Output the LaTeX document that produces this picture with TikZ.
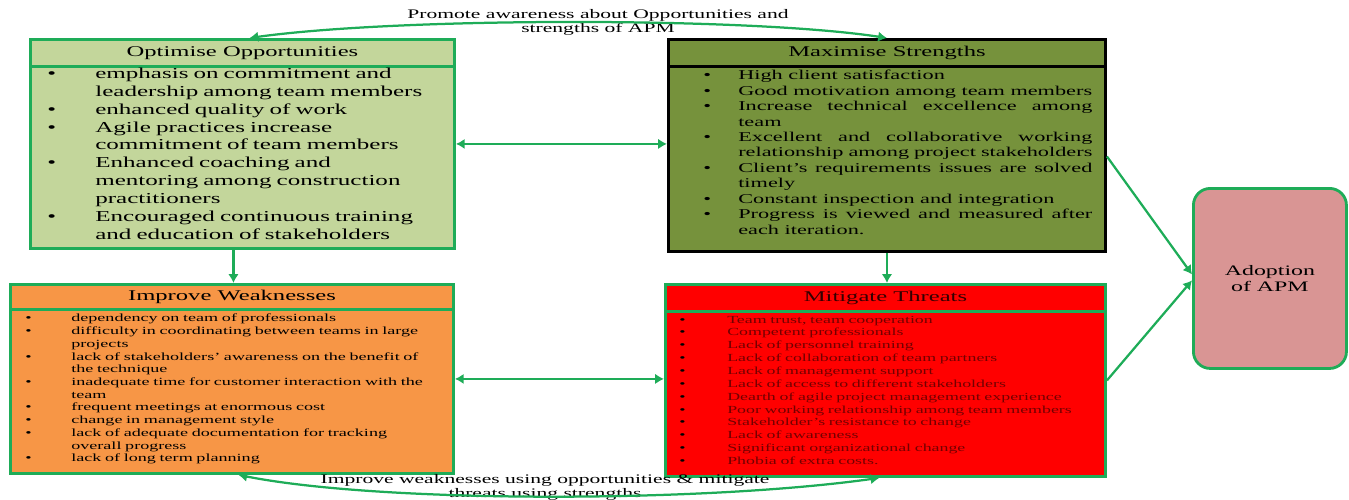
\documentclass[tikz,border=0pt]{standalone}
\usepackage{fontspec}
\setmainfont{Liberation Serif}[FakeStretch=1.65]
\usepackage{xcolor}
\usepackage{tikz}
\usetikzlibrary{arrows.meta, positioning}

\definecolor{apmgreen}{RGB}{30,172,88}
\definecolor{oppfill}{RGB}{195,214,155}
\definecolor{strfill}{RGB}{118,146,60}
\definecolor{weakfill}{RGB}{247,150,70}
\definecolor{thrfill}{RGB}{255,0,0}
\definecolor{apmfill}{RGB}{217,149,148}
\definecolor{thrtext}{RGB}{115,0,0}

\newlength{\bulind}
\newcommand{\bitem}[1]{\par\hangindent=\bulind\hangafter=1\noindent\makebox[\bulind][l]{\textcolor{black}{\textbullet}}#1}

\begin{document}
\begin{tikzpicture}[
        x=0.025cm, y=-0.025cm,
        box/.style={rectangle, draw=apmgreen, line width=2pt, anchor=north west, inner sep=0pt},
        head/.style={rectangle, draw=apmgreen, line width=2pt, anchor=north, inner sep=0pt, font=\fontsize{10.6}{12}\selectfont},
        body/.style={anchor=north west, inner sep=0pt, align=left},
        lbl/.style={align=center, inner sep=0pt, font=\fontsize{9.3}{10}\selectfont},
        arr/.style={-{Latex[length=2.2mm,width=2.6mm]}, line width=1.6pt, draw=apmgreen},
        darr/.style={arr, {Latex[length=2.2mm,width=2.6mm]}-{Latex[length=2.2mm,width=2.6mm]}},
    ]
        \useasboundingbox (0,0) rectangle (1349,500);

        % Top row
        \node[box, fill=oppfill, minimum width=10.6cm, minimum height=5.225cm] (opp) at (29,38) {};
        \node[head, fill=oppfill, minimum width=10.6cm, minimum height=0.675cm] (opphead) at (opp.north) {Optimise Opportunities};
        \node[body, text width=10cm, font=\fontsize{10.8}{12.76}\selectfont] (oppbody) at (47,60) {\setlength{\bulind}{1.2cm}%
            \bitem{emphasis on commitment and\newline leadership among team members}
            \bitem{enhanced quality of work}
            \bitem{Agile practices increase\newline commitment of team members}
            \bitem{Enhanced coaching and\newline mentoring among construction\newline practitioners}
            \bitem{Encouraged continuous training\newline and education of stakeholders}\par};

        \node[box, draw=black, fill=strfill, minimum width=10.925cm, minimum height=5.3cm] (str) at (667,38) {};
        \node[head, draw=black, fill=strfill, minimum width=10.925cm, minimum height=0.675cm] (strhead) at (str.north) {Maximise Strengths};
        \node[body, align=justify, text width=9.725cm, font=\fontsize{9.6}{10.98}\selectfont] (strbody) at (703,64) {\setlength{\bulind}{0.875cm}%
            \bitem{High client satisfaction}
            \bitem{Good motivation among team members}
            \bitem{Increase technical excellence among\linebreak team}
            \bitem{Excellent and collaborative working\linebreak relationship among project stakeholders}
            \bitem{Client's requirements issues are solved\linebreak timely}
            \bitem{Constant inspection and integration}
            \bitem{Progress is viewed and measured after\linebreak each iteration.}\par};

        % Bottom row
        \node[box, fill=weakfill, minimum width=11.075cm, minimum height=4.725cm] (wk) at (9,283) {};
        \node[head, fill=weakfill, minimum width=11.075cm, minimum height=0.625cm] (wkhead) at (wk.north) {Improve Weaknesses};
        \node[body, text width=10.4cm, font=\fontsize{7.8}{9.04}\selectfont] (wkbody) at (25,309) {\setlength{\bulind}{1.15cm}%
            \bitem{dependency on team of professionals}
            \bitem{difficulty in coordinating between teams in large\newline projects}
            \bitem{lack of stakeholders' awareness on the benefit of\newline the technique}
            \bitem{inadequate time for customer interaction with the\newline team}
            \bitem{frequent meetings at enormous cost}
            \bitem{change in management style}
            \bitem{lack of adequate documentation for tracking\newline overall progress}
            \bitem{lack of long term planning}\par};

        \node[box, fill=thrfill, minimum width=11cm, minimum height=4.8cm] (thr) at (664,283) {};
        \node[head, fill=thrfill, minimum width=11cm, minimum height=0.675cm, text=black!80!red] (thrhead) at (thr.north) {Mitigate Threats};
        \node[body, text width=10.3cm, text=thrtext, font=\fontsize{7.7}{9.14}\selectfont] (thrbody) at (679,310) {\setlength{\bulind}{1.2cm}%
            \bitem{Team trust, team cooperation}
            \bitem{Competent professionals}
            \bitem{Lack of personnel training}
            \bitem{Lack of collaboration of team partners}
            \bitem{Lack of management support}
            \bitem{Lack of access to different stakeholders}
            \bitem{Dearth of agile project management experience}
            \bitem{Poor working relationship among team members}
            \bitem{Stakeholder's resistance to change}
            \bitem{Lack of awareness}
            \bitem{Significant organizational change}
            \bitem{Phobia of extra costs.}\par};

        % Goal
        \node[box, fill=apmfill, rounded corners=12pt, minimum width=3.825cm, minimum height=4.5cm] (apm) at (1192,187) {};
        \node[align=center, inner sep=0pt, font=\fontsize{10.3}{11.3}\selectfont] (apmtext) at (apm.center) {Adoption\\of APM};

        % Labels
        \node[lbl] (promote) at (598,22) {Promote awareness about Opportunities and\\strengths of APM};
        \node[lbl] (improve) at (545,487) {Improve weaknesses using opportunities \& mitigate\\threats using strengths};

        % Arrows
        \draw[darr] ([xshift=0.175cm]opp.north) .. controls (400,17) and (750,17) .. (str.north);
        \draw[darr] ([xshift=0.16cm]wk.south) .. controls (380,503) and (700,503) .. ([xshift=-0.15cm]thr.south);
        \draw[darr] (opp.east) -- (opp.east -| str.west);
        \draw[darr] (wk.east) -- (wk.east -| thr.west);
        \draw[arr] ([xshift=-0.225cm]opp.south) -- ([xshift=-0.225cm]opp.south |- wk.north);
        \draw[arr] (str.south) -- (str.south |- thr.north);
        \draw[arr] ([yshift=-0.275cm]str.east) -- ([yshift=0.1cm]apm.west);
        \draw[arr] (thr.east) -- ([yshift=-0.05cm]apm.west);
    \end{tikzpicture}
\end{document}
